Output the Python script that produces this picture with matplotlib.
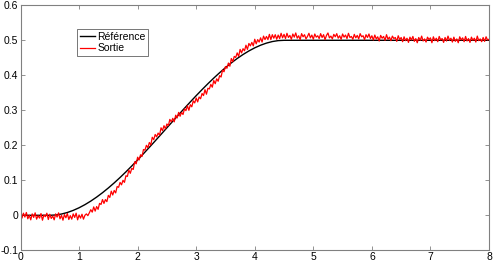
import numpy as np
import matplotlib
matplotlib.use("Agg")
import matplotlib.pyplot as plt

plt.rcParams['font.family'] = ['Liberation Sans', 'DejaVu Sans']

# Reference trajectory (black)
ref_t = [0.0, 0.5, 0.6, 0.7, 0.8, 0.9, 1.0, 1.1, 1.2, 1.3, 1.4, 1.5, 1.6, 1.7, 1.8, 1.9,
         2.0, 2.1, 2.2, 2.3, 2.4, 2.5, 2.6, 2.7, 2.8, 2.9, 3.0, 3.1, 3.2, 3.3, 3.4, 3.5,
         3.6, 3.7, 3.8, 3.9, 4.0, 4.1, 4.2, 4.3, 4.4, 4.5, 8.0]
ref_v = [0.0, 0.0, 0.0009, 0.0036, 0.0080, 0.0140, 0.0215, 0.0304, 0.0406, 0.0520, 0.0645,
         0.0781, 0.0926, 0.1080, 0.1241, 0.1409, 0.1582, 0.1760, 0.1942, 0.2126, 0.2313,
         0.2500, 0.2687, 0.2874, 0.3058, 0.3240, 0.3418, 0.3591, 0.3759, 0.3920, 0.4074,
         0.4219, 0.4355, 0.4480, 0.4594, 0.4696, 0.4785, 0.4860, 0.4920, 0.4964, 0.4991,
         0.5000, 0.5000]

# Measured output (red), sampled every 0.025 s from 0 to 8
out_v = [
    # 0.000 - 1.175
    0.002, -0.008, 0.006, -0.005, 0.008, -0.010, 0.000, -0.013,
    0.004, -0.006, 0.007, -0.011, -0.001, -0.008, 0.005, -0.014,
    0.001, -0.004, 0.006, -0.012, 0.003, -0.009, -0.002, -0.013,
    0.004, -0.005, 0.007, -0.010, 0.000, -0.014, 0.002, -0.007,
    0.005, -0.012, -0.001, -0.011, 0.004, -0.006, 0.006, -0.013,
    0.001, -0.008, 0.003, -0.011, 0.000, 0.004, -0.001, 0.007,
    # 1.200 - 4.475
    0.016, 0.009, 0.024, 0.012, 0.025, 0.017, 0.034, 0.031,
    0.045, 0.034, 0.045, 0.039, 0.057, 0.051, 0.069, 0.058,
    0.071, 0.064, 0.082, 0.080, 0.094, 0.087, 0.100, 0.094,
    0.113, 0.111, 0.129, 0.120, 0.134, 0.131, 0.153, 0.147,
    0.166, 0.158, 0.173, 0.168, 0.188, 0.186, 0.200, 0.193,
    0.208, 0.201, 0.223, 0.216, 0.231, 0.224, 0.235, 0.229,
    0.250, 0.242, 0.256, 0.247, 0.261, 0.256, 0.274, 0.267,
    0.277, 0.267, 0.286, 0.278, 0.294, 0.283, 0.294, 0.288,
    0.304, 0.299, 0.313, 0.300, 0.316, 0.310, 0.327, 0.321,
    0.335, 0.324, 0.338, 0.333, 0.348, 0.342, 0.359, 0.346,
    0.363, 0.361, 0.374, 0.366, 0.385, 0.376, 0.390, 0.383,
    0.399, 0.395, 0.415, 0.410, 0.425, 0.420, 0.435, 0.426,
    0.448, 0.439, 0.454, 0.451, 0.464, 0.454, 0.474, 0.464,
    0.476, 0.470, 0.486, 0.474, 0.491, 0.484, 0.494, 0.484,
    0.503, 0.490, 0.502, 0.495, 0.507, 0.495, 0.512, 0.502,
    0.511, 0.502, 0.517, 0.502, 0.516, 0.506, 0.516, 0.503,
    0.515, 0.505, 0.520, 0.507,
    # 4.500 - 5.975
    0.517, 0.505, 0.520, 0.508, 0.514, 0.503, 0.518, 0.509,
    0.521, 0.506, 0.513, 0.502, 0.519, 0.510, 0.516, 0.504,
    0.511, 0.520, 0.507, 0.515, 0.503, 0.518, 0.509, 0.513,
    0.505, 0.519, 0.508, 0.516, 0.502, 0.514, 0.521, 0.507,
    0.512, 0.504, 0.517, 0.510, 0.519, 0.506, 0.513, 0.503,
    0.518, 0.509, 0.515, 0.505, 0.520, 0.508, 0.511, 0.503,
    0.517, 0.507, 0.514, 0.504, 0.519, 0.510, 0.513, 0.502,
    0.516, 0.508, 0.518, 0.505,
    # 6.000 - 6.475
    0.513, 0.501, 0.515, 0.504, 0.510, 0.498, 0.514, 0.506,
    0.511, 0.500, 0.516, 0.503, 0.509, 0.499, 0.512, 0.505,
    0.508, 0.497, 0.513, 0.502,
    # 6.500 - 8.000
    0.508, 0.496, 0.510, 0.499, 0.506, 0.494, 0.509, 0.501,
    0.511, 0.497, 0.505, 0.493, 0.508, 0.500, 0.512, 0.498,
    0.504, 0.495, 0.509, 0.502, 0.507, 0.493, 0.510, 0.499,
    0.506, 0.496, 0.511, 0.501, 0.505, 0.494, 0.508, 0.498,
    0.512, 0.500, 0.506, 0.495, 0.509, 0.497, 0.504, 0.493,
    0.510, 0.501, 0.507, 0.496, 0.511, 0.498, 0.505, 0.494,
    0.509, 0.500, 0.506, 0.495, 0.512, 0.499, 0.504, 0.496,
    0.508, 0.497, 0.510, 0.501, 0.503,
]
out_t = np.linspace(0.0, 8.0, len(out_v))

labels = ['Référence', 'Sortie']
x_ticks = [0, 1, 2, 3, 4, 5, 6, 7, 8]
y_ticks = [-0.1, 0, 0.1, 0.2, 0.3, 0.4, 0.5, 0.6]
y_tick_labels = ['-0.1', '0', '0.1', '0.2', '0.3', '0.4', '0.5', '0.6']

fig = plt.figure(figsize=(4.93, 2.61), dpi=100)
ax = fig.add_axes([20.5 / 493, (261 - 250.3) / 261, 468.5 / 493, 245.0 / 261])

ax.plot(ref_t, ref_v, color='black', lw=1.0, label=labels[0])
ax.plot(out_t, out_v, color='#ff0000', lw=0.9, label=labels[1])

ax.set_xlim(0, 8)
ax.set_ylim(-0.1, 0.6)
ax.set_xticks(x_ticks)
ax.set_yticks(y_ticks)
ax.set_yticklabels(y_tick_labels)
ax.tick_params(direction='in', length=3, width=0.6, color='#808080',
               top=True, right=True, labelsize=7.5, pad=1.5)
for s in ax.spines.values():
    s.set_color('#808080')
    s.set_linewidth(0.8)

leg = ax.legend(loc='upper left', bbox_to_anchor=((77 - 20.5) / 468.5, (250.3 - 29) / 245),
                fontsize=7.5, frameon=True, fancybox=False, framealpha=1,
                handlelength=1.5, handletextpad=0.2, borderpad=0.25,
                labelspacing=0.15, borderaxespad=0)
leg.get_frame().set_edgecolor('#606060')
leg.get_frame().set_linewidth(0.6)

fig.savefig('out.png', dpi=100)
